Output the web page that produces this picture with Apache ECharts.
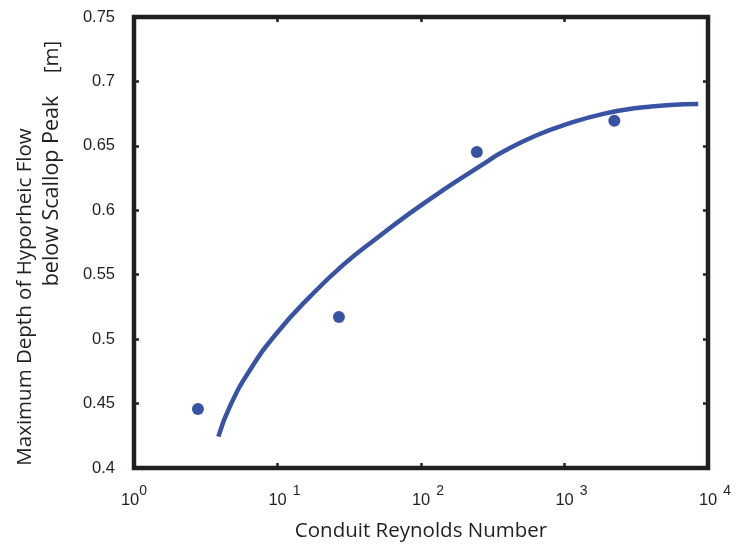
<!DOCTYPE html>
<html>
<head>
<meta charset="utf-8">
<script src="https://cdn.jsdelivr.net/npm/echarts@6/dist/echarts.min.js"></script>
<style>
  html, body { margin: 0; padding: 0; background: #ffffff; }
  #chart { width: 737px; height: 548px; }
</style>
</head>
<body>
<div id="chart"></div>
<script>
// Fitted curve: maximum hyporheic depth vs conduit Reynolds number
const curveRe    = [3.87, 4.67, 6.43, 9.87, 16.85, 28.7, 49.1, 83.8, 143, 287, 375, 640, 1092, 1864, 3186, 5433, 8550];
const curveDepth = [0.4243, 0.4481, 0.4761, 0.5046, 0.5330, 0.5576, 0.5783, 0.5978, 0.6158, 0.6376, 0.6456, 0.6582, 0.6676, 0.6748, 0.6793, 0.6818, 0.6824];

// Simulated runs
const pointRe    = [2.79, 26.8, 245, 2224];
const pointDepth = [0.4458, 0.5172, 0.6453, 0.6694];

// Axis ticks
const xTickExponents = ['0', '1', '2', '3', '4'];
const yTickLabels = ['0.4', '0.45', '0.5', '0.55', '0.6', '0.65', '0.7', '0.75'];

const INK = '#231f20';
const BLUE = '#3953a4';

const chart = echarts.init(document.getElementById('chart'), null, { renderer: 'canvas' });

function pairs(xs, ys) { return xs.map((x, i) => [x, ys[i]]); }

const tickStyle = { show: true, inside: true, length: 5, lineStyle: { color: INK, width: 2.5 } };

const option = {
  animation: false,
  backgroundColor: '#ffffff',
  grid: {
    left: 134, right: 29, top: 17, bottom: 80,
    show: true, borderWidth: 4.5, borderColor: INK, backgroundColor: 'transparent'
  },
  xAxis: [
    {
      type: 'log', logBase: 10, min: 1, max: 10000, splitNumber: 4,
      axisLine: { show: false }, axisTick: tickStyle, splitLine: { show: false },
      minorTick: { show: false },
      axisLabel: {
        margin: 16,
        formatter: function (v) {
          const e = Math.round(Math.log10(v));
          const s = xTickExponents[e];
          if (e === 0) return '{b|10}{s0|' + s + '}';
          return '{p|}{b|10}{s|' + s + '}';
        },
        rich: {
          b:  { fontFamily: 'Liberation Sans', fontSize: 16.5, color: INK, lineHeight: 25, verticalAlign: 'bottom' },
          s:  { fontFamily: 'Liberation Sans', fontSize: 14, color: INK, lineHeight: 12, verticalAlign: 'top', padding: [0, 0, 0, 6] },
          s0: { fontFamily: 'Liberation Sans', fontSize: 14, color: INK, lineHeight: 12, verticalAlign: 'top' },
          p:  { width: 14 }
        }
      }
    },
    {
      type: 'log', logBase: 10, min: 1, max: 10000, splitNumber: 4, position: 'top',
      axisLine: { show: false }, axisTick: tickStyle, splitLine: { show: false },
      axisLabel: { show: false }
    }
  ],
  yAxis: [
    {
      type: 'value', min: 0.4, max: 0.75, interval: 0.05,
      axisLine: { show: false }, axisTick: tickStyle, splitLine: { show: false },
      axisLabel: {
        margin: 19, color: INK, fontFamily: 'Liberation Sans', fontSize: 16.5,
        formatter: function (v) { return yTickLabels[Math.round((v - 0.4) / 0.05)]; }
      }
    },
    {
      type: 'value', min: 0.4, max: 0.75, interval: 0.05, position: 'right',
      axisLine: { show: false }, axisTick: tickStyle, splitLine: { show: false },
      axisLabel: { show: false }
    }
  ],
  series: [
    {
      type: 'line', xAxisIndex: 0, yAxisIndex: 0,
      data: pairs(curveRe, curveDepth),
      smooth: 0.5, showSymbol: false, symbol: 'none',
      lineStyle: { color: BLUE, width: 4.5, cap: 'butt' }
    },
    {
      type: 'scatter', xAxisIndex: 0, yAxisIndex: 0,
      data: pairs(pointRe, pointDepth),
      symbol: 'circle', symbolSize: 12,
      itemStyle: { color: BLUE, opacity: 1 }
    }
  ],
  graphic: [
    {
      type: 'text', x: 421, y: 531,
      style: { text: 'Conduit Reynolds Number', fill: INK, fontFamily: 'Open Sans', fontSize: 20.5, align: 'center', verticalAlign: 'middle' }
    },
    {
      type: 'text', x: 25, y: 297, rotation: Math.PI / 2,
      style: { text: 'Maximum Depth of Hyporheic Flow', fill: INK, fontFamily: 'Open Sans', fontSize: 20.5, align: 'center', verticalAlign: 'middle' }
    },
    {
      type: 'text', x: 52, y: 191, rotation: Math.PI / 2,
      style: { text: 'below Scallop Peak', fill: INK, fontFamily: 'Open Sans', fontSize: 21.5, align: 'center', verticalAlign: 'middle' }
    },
    {
      type: 'text', x: 52, y: 57, rotation: Math.PI / 2,
      style: { text: '[m]', fill: INK, fontFamily: 'Open Sans', fontSize: 20.5, align: 'center', verticalAlign: 'middle' }
    }
  ]
};

chart.setOption(option);
</script>
</body>
</html>
